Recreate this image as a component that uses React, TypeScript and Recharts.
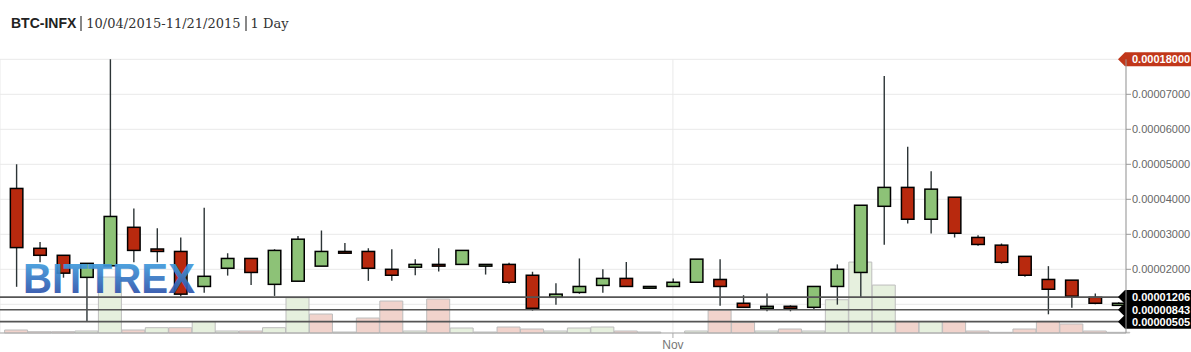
import React from 'react';
import { ComposedChart, Bar, XAxis, YAxis, CartesianGrid, ReferenceLine, Cell } from 'recharts';

// Market: BTC-INFX, daily candles 10/04/2015 - 11/20/2015 (prices in satoshi)
const dates = [
  '10/04', '10/05', '10/06', '10/07', '10/08', '10/09', '10/10', '10/11', '10/12', '10/13',
  '10/14', '10/15', '10/16', '10/17', '10/18', '10/19', '10/20', '10/21', '10/22', '10/23',
  '10/24', '10/25', '10/26', '10/27', '10/28', '10/29', '10/30', '10/31', '11/01', '11/02',
  '11/03', '11/04', '11/05', '11/06', '11/07', '11/08', '11/09', '11/10', '11/11', '11/12',
  '11/13', '11/14', '11/15', '11/16', '11/17', '11/18', '11/19', '11/20',
];
const opens = [4310, 2600, 2400, 1770, 2100, 3200, 2580, 2510, 1510, 2030, 2310, 1570, 1660, 2090, 2510, 2510, 2000, 2060, 2140, 2140, 2090, 2140, 1830, 1200, 1340, 1540, 1740, 1460, 1510, 1630, 1710, 1030, 886, 943, 914, 1510, 1910, 3800, 4340, 3430, 4060, 2910, 2690, 2370, 1710, 1690, 1200, 970];
const highs = [5000, 2780, 2400, 2170, 18000, 3740, 3170, 2910, 3760, 2460, 2310, 2570, 2950, 3110, 2750, 2600, 2570, 2290, 2600, 2540, 2140, 2190, 1930, 1600, 2310, 2000, 2210, 1510, 1740, 2290, 2290, 1260, 1310, 970, 1510, 2140, 3830, 7520, 5500, 4800, 4060, 2970, 2740, 2370, 2090, 1690, 1310, 1060];
const lows = [1500, 2200, 1760, 505, 2100, 2200, 2200, 1220, 1330, 1820, 1550, 1240, 1660, 2090, 2460, 1670, 1670, 1830, 1940, 2140, 1850, 1590, 820, 990, 1300, 1330, 1510, 1460, 1510, 1630, 960, 914, 800, 800, 857, 990, 1200, 2700, 3310, 3020, 2910, 2670, 2160, 1790, 714, 900, 1000, 970];
const closes = [2620, 2400, 1890, 2170, 3510, 2540, 2510, 1290, 1800, 2310, 1910, 2540, 2860, 2510, 2460, 2030, 1830, 2140, 2090, 2540, 2140, 1630, 886, 1290, 1510, 1740, 1510, 1510, 1630, 2290, 1510, 914, 943, 886, 1510, 2000, 3830, 4340, 3430, 4290, 3030, 2710, 2200, 1830, 1430, 1230, 1030, 1030];
const volumes = [3, 1.3, 1.3, 2, 56, 3, 5.3, 5.3, 11.5, 2, 2, 5.3, 35.3, 19, 1, 15, 32, 2, 34, 5, 1, 6, 4, 2, 5, 6, 2, 1, 0, 2, 22.7, 10.7, 2, 4, 2, 33.3, 71, 48, 11.7, 11.7, 11.7, 2, 0.7, 4, 11.7, 9, 2, 0.7];
const volumeUp = [0, 0, 0, 1, 1, 0, 1, 0, 1, 1, 0, 1, 1, 0, 1, 0, 0, 1, 0, 1, 1, 0, 0, 1, 1, 1, 0, 1, 1, 1, 0, 0, 1, 0, 1, 1, 1, 1, 0, 1, 0, 0, 0, 0, 0, 0, 0, 1];

const priceTicks = [0.00001, 0.00002, 0.00003, 0.00004, 0.00005, 0.00006, 0.00007, 0.00008];
const labeledTicks = [0.00002, 0.00003, 0.00004, 0.00005, 0.00006, 0.00007];
const markerLevels = [0.00001206, 0.00000843, 0.00000505];
const monthTicks: Record<string, string> = { '11/01': 'Nov' };

const SAT = 1e8;
const data = dates.map((d, i) => ({
  date: d,
  open: opens[i] / SAT,
  high: highs[i] / SAT,
  low: lows[i] / SAT,
  close: closes[i] / SAT,
  volume: volumes[i],
}));
const maxHigh = Math.max(...highs) / SAT;

const W = 1191;
const H = 352;
const Y_AXIS_W = 65;
const PLOT_RIGHT = W - Y_AXIS_W;
const Y_MIN = 0.0000018;
const Y_MAX = 0.00008;

const GREEN = '#8dc277';
const RED = '#b8290e';
const FONT = '"Liberation Sans", Arial, sans-serif';

const Candle = (props: any) => {
  const { x, y, width, height, payload } = props;
  if (x == null || y == null || height == null || !payload) return null;
  const { open, close, high, low } = payload;
  const span = high - low;
  const ppu = span !== 0 ? height / span : 0;
  const yOf = (v: number) => y + (high - v) * ppu;
  const cx = x + width / 2;
  const top = yOf(Math.max(open, close));
  const bot = yOf(Math.min(open, close));
  const up = close >= open;
  return (
    <g>
      <line x1={cx} x2={cx} y1={y} y2={y + height} stroke="#2c3436" strokeWidth={1.4} />
      <rect
        x={x + 0.75}
        y={top}
        width={width - 1.5}
        height={Math.max(bot - top, 1.5)}
        fill={up ? GREEN : RED}
        stroke="#000"
        strokeWidth={1.5}
      />
    </g>
  );
};

const makeTag = (text: string, fill: string) => (props: any) => {
  const vb = props.viewBox || {};
  const y = vb.y ?? 0;
  const tip = PLOT_RIGHT - 8;
  const h = 7;
  const pts = `${tip},${y} ${tip + 7},${y - h} ${W},${y - h} ${W},${y + h} ${tip + 7},${y + h}`;
  return (
    <g>
      <polygon points={pts} fill={fill} />
      <text
        x={PLOT_RIGHT + 6}
        y={y}
        dy="0.36em"
        fill="#fff"
        fontSize={11}
        fontWeight="bold"
        fontFamily={FONT}
      >
        {text}
      </text>
    </g>
  );
};

const PriceTick = (props: any) => {
  const { y, payload } = props;
  const v = payload.value;
  const show = labeledTicks.some((t) => Math.abs(t - v) < 1e-10);
  if (!show) return null;
  return (
    <g>
      <line x1={PLOT_RIGHT} x2={PLOT_RIGHT + 5} y1={y} y2={y} stroke="#999" />
      <text x={PLOT_RIGHT + 6} y={y} dy="0.36em" fill="#666" fontSize={11} fontFamily={FONT}>
        {v.toFixed(8)}
      </text>
    </g>
  );
};

const DateTick = (props: any) => {
  const { x, y, payload } = props;
  return (
    <text x={x} y={y} dy={9} textAnchor="middle" fill="#777" fontSize={12} fontFamily={FONT}>
      {monthTicks[payload.value] ?? payload.value}
    </text>
  );
};

export default function App() {
  return (
    <div style={{ position: 'absolute', left: 0, top: 0, width: W, height: H, background: '#fff', overflow: 'hidden' }}>
      <div
        style={{
          position: 'absolute',
          left: 11,
          top: 15,
          lineHeight: '16px',
          whiteSpace: 'nowrap',
          color: '#333',
        }}
      >
        <span style={{ fontFamily: FONT, fontWeight: 'bold', fontSize: 14, color: '#222' }}>BTC-INFX</span>
        <span style={{ display: 'inline-block', width: 2, height: 15, background: '#888', margin: '0 4px 0 4px', verticalAlign: -3 }} />
        <span style={{ fontFamily: '"DejaVu Serif", serif', fontSize: 13 }}>10/04/2015-11/21/2015</span>
        <span style={{ display: 'inline-block', width: 2, height: 15, background: '#888', margin: '0 4px 0 4px', verticalAlign: -3 }} />
        <span style={{ fontFamily: '"DejaVu Serif", serif', fontSize: 13 }}>1 Day</span>
      </div>
      <ComposedChart
        width={W}
        height={H}
        data={data}
        margin={{ top: 59.3, right: 0, bottom: 0, left: 0 }}
        barCategoryGap={0}
        barGap={0}
        style={{ position: 'absolute', left: 0, top: 0 }}
      >
        <CartesianGrid xAxisId="c" yAxisId="p" stroke="#e9e9e9" strokeWidth={1} />
        <XAxis
          xAxisId="c"
          dataKey="date"
          ticks={['11/01']}
          interval={0}
          height={19}
          padding={{ left: 4.6, right: -4.2 }}
          axisLine={{ stroke: '#aaa' }}
          tickLine={{ stroke: '#aaa' }}
          tickSize={5}
          tick={<DateTick />}
        />
        <XAxis xAxisId="v" dataKey="date" hide padding={{ left: 4.6, right: -4.2 }} />
        <YAxis
          yAxisId="p"
          orientation="right"
          width={Y_AXIS_W}
          domain={[Y_MIN, Y_MAX]}
          allowDataOverflow
          ticks={priceTicks}
          interval={0}
          axisLine={{ stroke: '#999' }}
          tickLine={false}
          tick={<PriceTick />}
        />
        <YAxis yAxisId="v" hide domain={[0, 274]} />
        <Bar xAxisId="v" yAxisId="v" dataKey="volume" isAnimationActive={false} stroke="#bdbdbd" strokeWidth={1}>
          {data.map((d, i) => (
            <Cell key={d.date} fill={volumeUp[i] ? '#e6f0de' : '#f1d3cc'} />
          ))}
        </Bar>
        <Bar
          xAxisId="c"
          yAxisId="p"
          dataKey={(d: any) => [d.low, d.high]}
          barSize={14}
          isAnimationActive={false}
          shape={<Candle />}
        />
        {markerLevels.map((lv) => (
          <ReferenceLine
            key={lv}
            xAxisId="c"
            yAxisId="p"
            y={lv}
            stroke="#555"
            strokeWidth={1.6}
            label={{ content: makeTag(lv.toFixed(8), '#000') }}
          />
        ))}
        <ReferenceLine
          xAxisId="c"
          yAxisId="p"
          y={Y_MAX}
          stroke="none"
          label={{ content: makeTag(maxHigh.toFixed(8), '#c1371a') }}
        />
      </ComposedChart>
      <svg width={W} height={H} style={{ position: 'absolute', left: 0, top: 0, pointerEvents: 'none' }}>
        <defs>
          <linearGradient id="wm" x1="0" y1="0" x2="0" y2="1">
            <stop offset="0%" stopColor="#45b0ea" />
            <stop offset="100%" stopColor="#2a3f9e" />
          </linearGradient>
        </defs>
        <text
          x={23}
          y={293}
          fontSize={42}
          fontWeight="bold"
          fontFamily={FONT}
          fill="url(#wm)"
          textLength={172}
          lengthAdjust="spacingAndGlyphs"
          opacity={0.92}
        >
          BITTREX
        </text>
      </svg>
    </div>
  );
}
